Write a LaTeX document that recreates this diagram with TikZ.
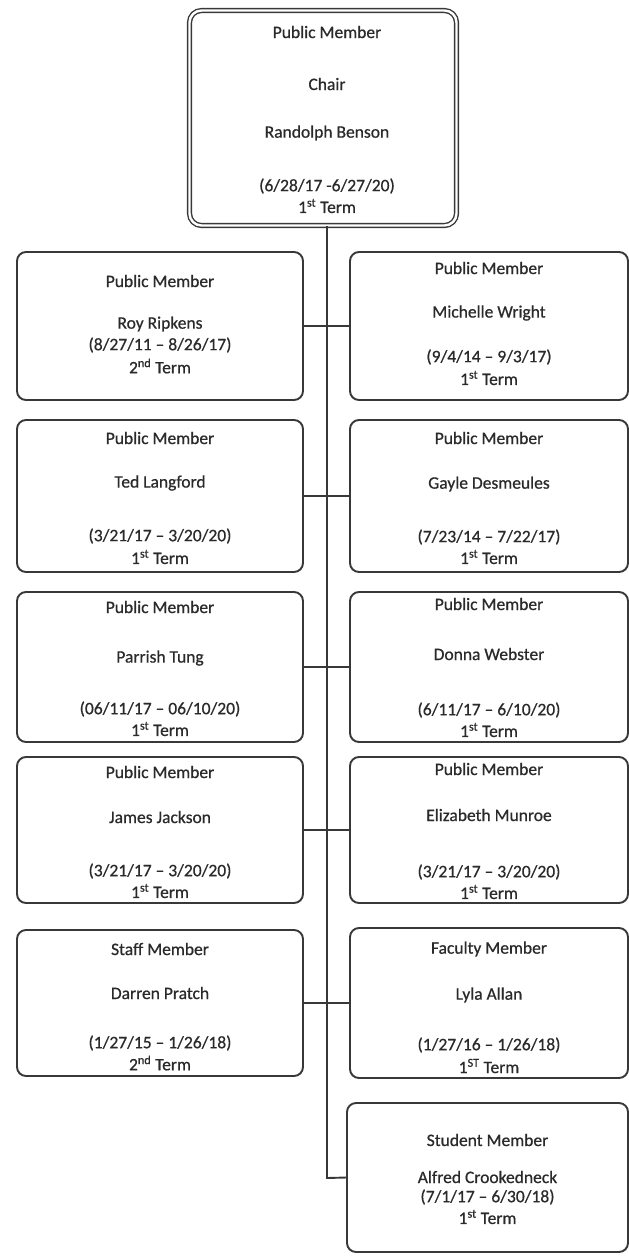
\documentclass[tikz,border=0pt]{standalone}
\usepackage{fontspec}
\setmainfont{Carlito}[FakeBold=0.6]
\usetikzlibrary{calc}
\definecolor{ink}{HTML}{383838}
\definecolor{txt}{HTML}{2A2A2A}
\begin{document}
\begin{tikzpicture}[x=1pt,y=-1pt,
  box/.style={draw=ink, line width=1.9pt, rounded corners=9pt, inner sep=0pt, fill=white},
  chairbox/.style={draw=ink, double=white, double distance=2.4pt, line width=1.4pt, rounded corners=12pt, inner sep=0pt},
  lbl/.style={text=txt, font=\fontsize{17.5}{20}\selectfont, inner sep=0pt, anchor=center},
  wire/.style={draw=ink, line width=1.9pt}
]
\useasboundingbox (0,0) rectangle (629,1259);

% chair
\node[chairbox, minimum width=267pt, minimum height=215pt] (chair) at (323,118) {};
\node[lbl] (c1) at (327,32) {Public Member};
\node[lbl] (c2) at (327,84) {Chair};
\node[lbl] (c3) at (327,133) {Randolph Benson};
\node[lbl] (c4) at (327,186) {(6/28/17 -6/27/20)};
\node[lbl] (c5) at (327,206) {1\textsuperscript{st} Term};

% spine
\coordinate (spine) at (327,1178);

% boxes
\node[box, minimum width=286pt, minimum height=148pt] (L1) at (160,326) {};
\node[box, minimum width=278pt, minimum height=148pt] (R1) at (489,326) {};
\node[box, minimum width=286pt, minimum height=152pt] (L2) at (160,496) {};
\node[box, minimum width=278pt, minimum height=152pt] (R2) at (489,496) {};
\node[box, minimum width=286pt, minimum height=150pt] (L3) at (160,667) {};
\node[box, minimum width=278pt, minimum height=150pt] (R3) at (489,667) {};
\node[box, minimum width=286pt, minimum height=146pt] (L4) at (160,830) {};
\node[box, minimum width=278pt, minimum height=146pt] (R4) at (489,830) {};
\node[box, minimum width=286pt, minimum height=146pt] (L5) at (160,1003) {};
\node[box, minimum width=278pt, minimum height=150pt] (R5) at (489,1003) {};
\node[box, minimum width=281pt, minimum height=149pt] (R6) at (487.5,1177.5) {};

% connectors
\draw[wire] (chair.south -| spine) -- (spine) -- (R6.west);
\draw[wire] (L1.east) -- (R1.west);
\draw[wire] (L2.east) -- (R2.west);
\draw[wire] (L3.east) -- (R3.west);
\draw[wire] (L4.east) -- (R4.west);
\draw[wire] (L5.east) -- (R5.west);

% row 1
\node[lbl] (l1a) at (160,281) {Public Member};
\node[lbl] (l1b) at (160,324) {Roy Ripkens};
\node[lbl] (l1c) at (160,345) {(8/27/11 – 8/26/17)};
\node[lbl] (l1d) at (160,366) {2\textsuperscript{nd} Term};
\node[lbl] (r1a) at (489,268) {Public Member};
\node[lbl] (r1b) at (489,313) {Michelle Wright};
\node[lbl] (r1c) at (489,357) {(9/4/14 – 9/3/17)};
\node[lbl] (r1d) at (489,378) {1\textsuperscript{st} Term};

% row 2
\node[lbl] (l2a) at (160,438) {Public Member};
\node[lbl] (l2b) at (160,483) {Ted Langford};
\node[lbl] (l2c) at (160,536) {(3/21/17 – 3/20/20)};
\node[lbl] (l2d) at (160,557) {1\textsuperscript{st} Term};
\node[lbl] (r2a) at (489,438) {Public Member};
\node[lbl] (r2b) at (489,484) {Gayle Desmeules};
\node[lbl] (r2c) at (489,537) {(7/23/14 – 7/22/17)};
\node[lbl] (r2d) at (489,557) {1\textsuperscript{st} Term};

% row 3
\node[lbl] (l3a) at (160,607) {Public Member};
\node[lbl] (l3b) at (160,658) {Parrish Tung};
\node[lbl] (l3c) at (160,709) {(06/11/17 – 06/10/20)};
\node[lbl] (l3d) at (160,729) {1\textsuperscript{st} Term};
\node[lbl] (r3a) at (489,604) {Public Member};
\node[lbl] (r3b) at (489,654) {Donna Webster};
\node[lbl] (r3c) at (489,710) {(6/11/17 – 6/10/20)};
\node[lbl] (r3d) at (489,730) {1\textsuperscript{st} Term};

% row 4
\node[lbl] (l4a) at (160,772) {Public Member};
\node[lbl] (l4b) at (160,817) {James Jackson};
\node[lbl] (l4c) at (160,871) {(3/21/17 – 3/20/20)};
\node[lbl] (l4d) at (160,891) {1\textsuperscript{st} Term};
\node[lbl] (r4a) at (489,769) {Public Member};
\node[lbl] (r4b) at (489,815) {Elizabeth Munroe};
\node[lbl] (r4c) at (489,872) {(3/21/17 – 3/20/20)};
\node[lbl] (r4d) at (489,892) {1\textsuperscript{st} Term};

% row 5
\node[lbl] (l5a) at (160,949) {Staff Member};
\node[lbl] (l5b) at (160,993) {Darren Pratch};
\node[lbl] (l5c) at (160,1043) {(1/27/15 – 1/26/18)};
\node[lbl] (l5d) at (160,1063) {2\textsuperscript{nd} Term};
\node[lbl] (r5a) at (489,949) {Faculty Member};
\node[lbl] (r5b) at (489,995) {Lyla Allan};
\node[lbl] (r5c) at (489,1045) {(1/27/16 – 1/26/18)};
\node[lbl] (r5d) at (489,1066) {1\textsuperscript{ST} Term};

% row 6
\node[lbl] (r6a) at (487.5,1140) {Student Member};
\node[lbl] (r6b) at (487.5,1177) {Alfred Crookedneck};
\node[lbl] (r6c) at (487.5,1197) {(7/1/17 – 6/30/18)};
\node[lbl] (r6d) at (487.5,1217) {1\textsuperscript{st} Term};
\end{tikzpicture}
\end{document}
